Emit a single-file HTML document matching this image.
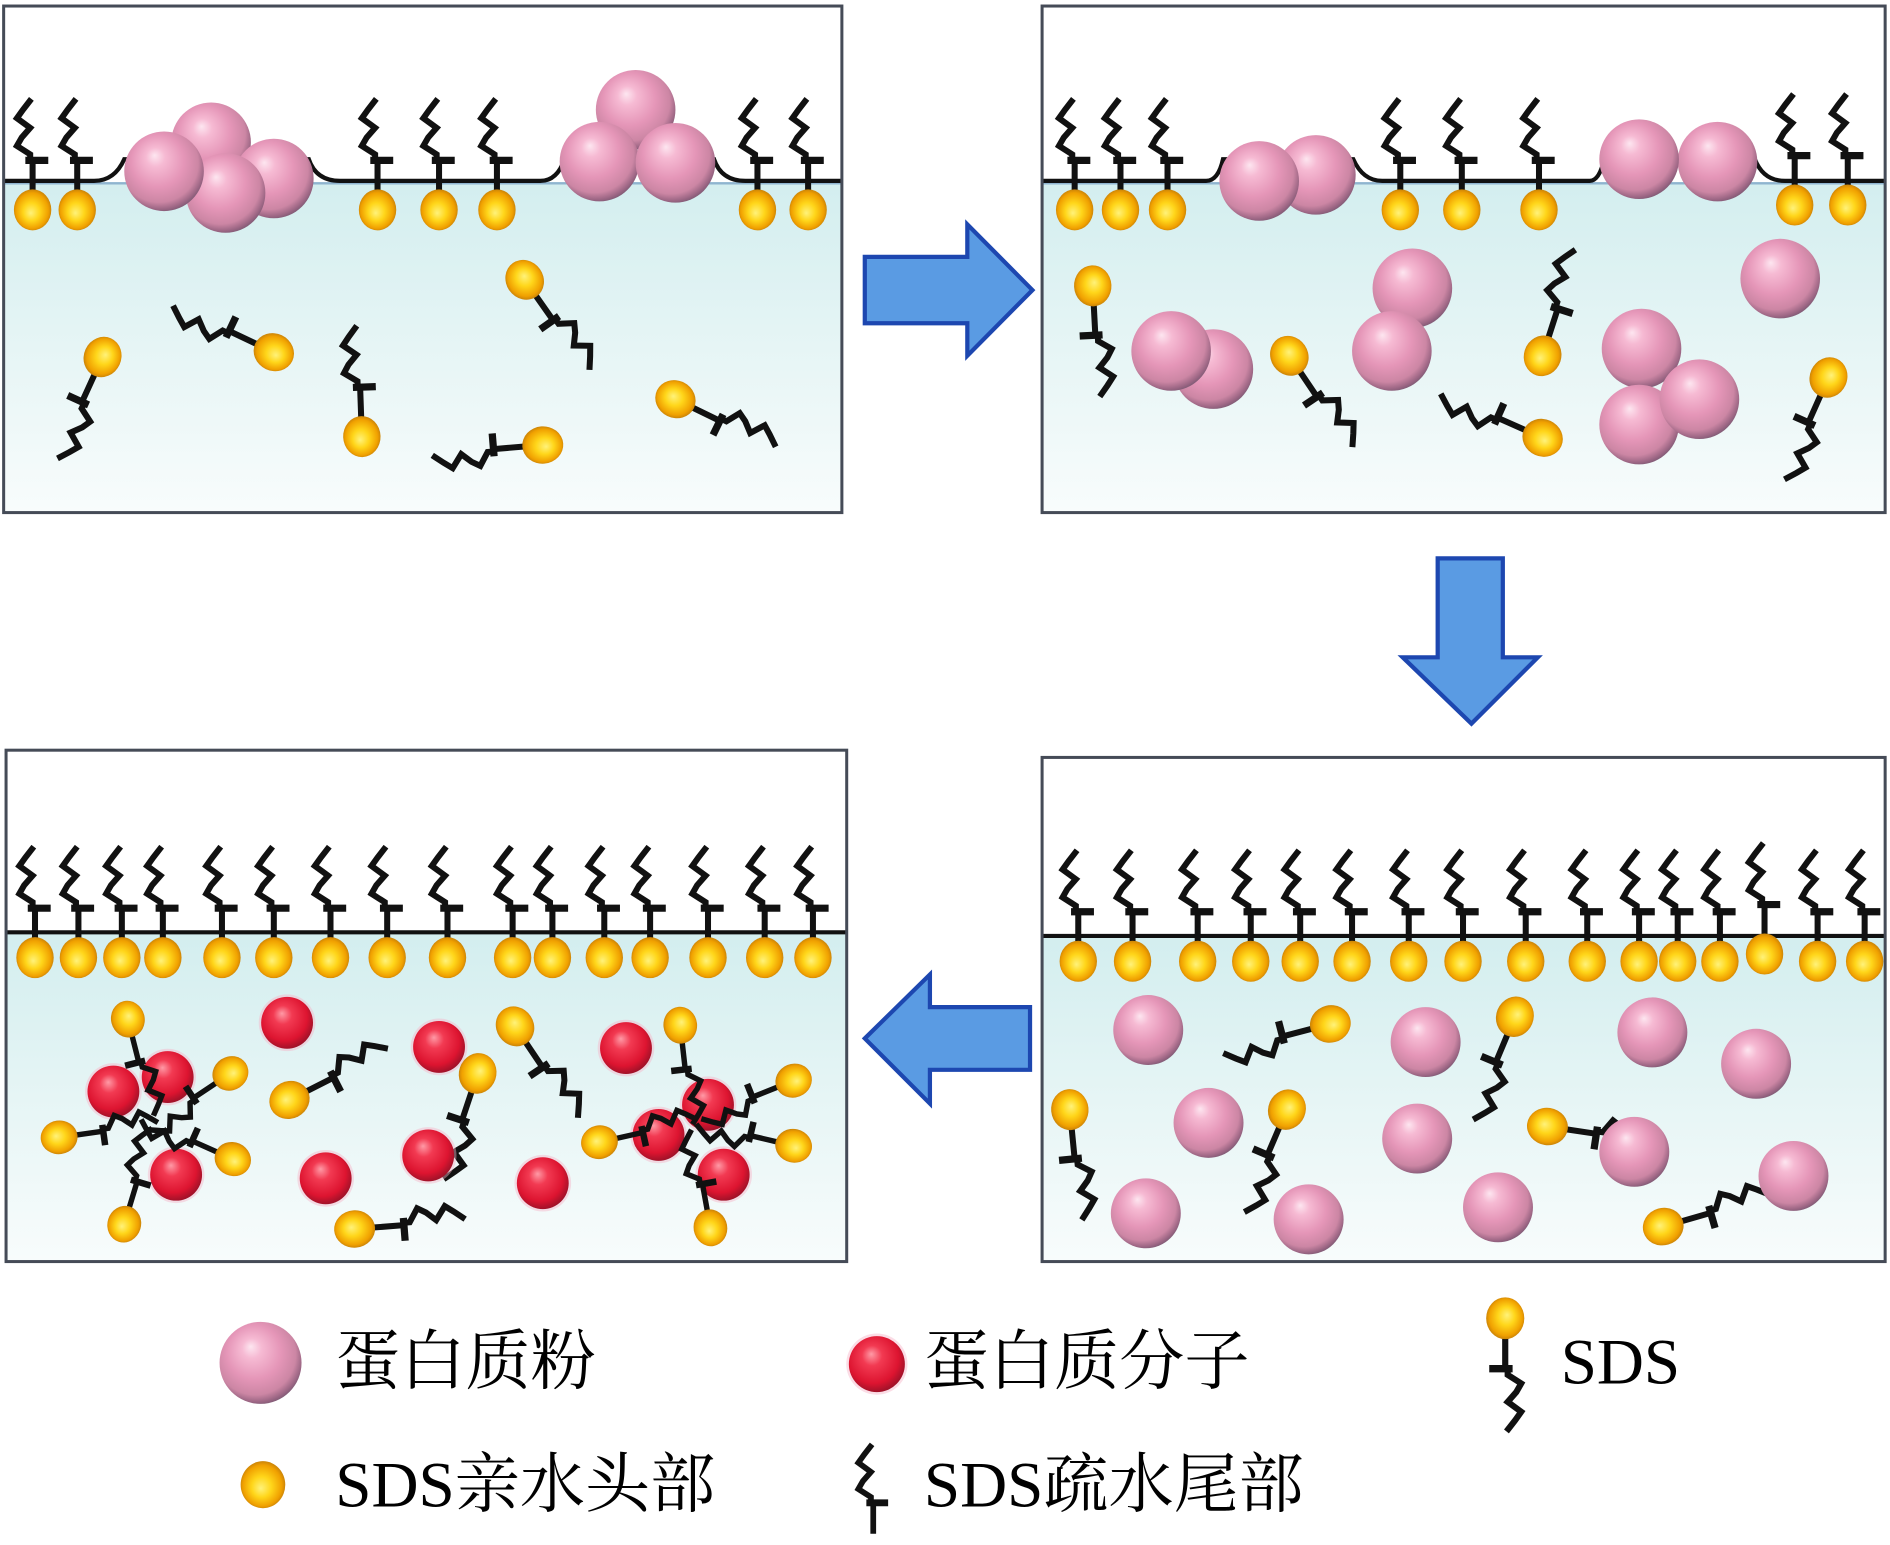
<!DOCTYPE html>
<html><head><meta charset="utf-8"><style>
html,body{margin:0;padding:0;background:#fff;}
svg{display:block;}
.lg{font-family:"Liberation Serif","Noto Serif CJK SC",serif;font-size:54px;fill:#000;}
</style></head><body>
<svg width="1890" height="1545" viewBox="0 0 1567 1281" xmlns="http://www.w3.org/2000/svg">
<defs>
<radialGradient id="pink" cx="0.45" cy="0.42" r="0.6" fx="0.38" fy="0.3">
<stop offset="0" stop-color="#fde6f0"/><stop offset="0.2" stop-color="#f6bad3"/><stop offset="0.55" stop-color="#e596b8"/><stop offset="0.82" stop-color="#cc86a4"/><stop offset="0.94" stop-color="#9c6684"/><stop offset="1" stop-color="#7d5a74"/>
</radialGradient>
<radialGradient id="red" cx="0.45" cy="0.42" r="0.6" fx="0.4" fy="0.32">
<stop offset="0" stop-color="#ff9aa6"/><stop offset="0.3" stop-color="#f23a52"/><stop offset="0.75" stop-color="#dd1430"/><stop offset="1" stop-color="#9a1228"/>
</radialGradient>
<radialGradient id="yel" cx="0.5" cy="0.5" r="0.58" fx="0.45" fy="0.58">
<stop offset="0" stop-color="#fff27a"/><stop offset="0.38" stop-color="#ffd61a"/><stop offset="0.75" stop-color="#f0a000"/><stop offset="1" stop-color="#a86a10"/>
</radialGradient>
<linearGradient id="water" x1="0" y1="0" x2="0" y2="1">
<stop offset="0" stop-color="#d3eeef"/><stop offset="0.5" stop-color="#e6f5f5"/><stop offset="1" stop-color="#f8fcfc"/>
</linearGradient>
<g id="tail">
<path d="M-1,-92 L-8,-83 L-13,-76 L-2,-68 L-9,-60 L-13,-53 L-2,-46 L-2,-41 M0,-41 L0,-14" fill="none" stroke="#111" stroke-width="5" stroke-linejoin="miter"/>
<path d="M-6,-41 L13,-41" stroke="#111" stroke-width="6"/>
</g>
<g id="sds"><use href="#tail"/><ellipse rx="15.5" ry="17" fill="url(#yel)"/></g>
<circle id="pk" r="33" fill="url(#pink)"/>
<circle id="pk2" r="29" fill="url(#pink)"/>
<g id="rd"><circle r="23.5" fill="#f7b3c8" opacity="0.45"/><circle r="21.5" fill="url(#red)"/></g>
</defs>

<!-- ============ PANEL 1 ============ -->
<rect x="3" y="5" width="695" height="420" fill="#fff"/>
<rect x="3" y="151" width="695" height="274" fill="url(#water)"/>
<line x1="3" y1="152" x2="698" y2="152" stroke="#8fb4cf" stroke-width="2"/>
<path d="M3,150 L78,150 Q95,150 103,132 L256,132 Q262,150 282,150 L448,150 Q462,150 468,132 L592,132 Q598,150 618,150 L698,150" fill="none" stroke="#111" stroke-width="3.5"/>
<use href="#pk" x="175" y="118"/><use href="#pk" x="227" y="148"/><use href="#pk" x="187" y="160"/><use href="#pk" x="136" y="142"/>
<use href="#pk" x="527" y="91"/><use href="#pk" x="497" y="134"/><use href="#pk" x="560" y="135"/>
<use href="#sds" x="27" y="174"/><use href="#sds" x="64" y="174"/><use href="#sds" x="313" y="174"/><use href="#sds" x="364" y="174"/><use href="#sds" x="412" y="174"/><use href="#sds" x="628" y="174"/><use href="#sds" x="670" y="174"/>
<use href="#sds" transform="translate(85,296) rotate(-155.4)"/>
<use href="#sds" transform="translate(227,292) rotate(-64.6)"/>
<use href="#sds" transform="translate(300,362) rotate(-2)"/>
<use href="#sds" transform="translate(435,232) rotate(144.9)"/>
<use href="#sds" transform="translate(450,369) rotate(-94.7)"/>
<use href="#sds" transform="translate(560,331) rotate(116)"/>
<rect x="3" y="5" width="695" height="420" fill="none" stroke="#454b57" stroke-width="2.5"/>

<!-- ============ PANEL 2 ============ -->
<rect x="864" y="5" width="699" height="420" fill="#fff"/>
<rect x="864" y="151" width="699" height="274" fill="url(#water)"/>
<line x1="864" y1="152" x2="1563" y2="152" stroke="#8fb4cf" stroke-width="2"/>
<path d="M864,150 L1000,150 Q1010,150 1014,132 L1122,132 Q1130,150 1146,150 L1318,150 Q1326,150 1330,132 L1455,132 Q1462,150 1480,150 L1563,150" fill="none" stroke="#111" stroke-width="3.5"/>
<use href="#pk" x="1091" y="145"/><use href="#pk" x="1044" y="150"/>
<use href="#pk" x="1424" y="134"/><use href="#pk" x="1359" y="132"/>
<use href="#sds" transform="translate(1279,363) rotate(-66)"/>
<use href="#pk" x="1006" y="306"/><use href="#pk" x="971" y="291"/>
<use href="#pk" x="1171" y="239"/><use href="#pk" x="1154" y="291"/>
<use href="#pk" x="1476" y="231"/>
<use href="#pk" x="1361" y="289"/><use href="#pk" x="1359" y="352"/><use href="#pk" x="1409" y="331"/>
<use href="#sds" x="891" y="174"/><use href="#sds" x="929" y="174"/><use href="#sds" x="968" y="174"/><use href="#sds" x="1161" y="174"/><use href="#sds" x="1212" y="174"/><use href="#sds" x="1276" y="174"/><use href="#sds" x="1488" y="170"/><use href="#sds" x="1532" y="170"/>
<use href="#sds" transform="translate(906,237) rotate(177)"/>
<use href="#sds" transform="translate(1069,295) rotate(146)"/>
<use href="#sds" transform="translate(1279,295) rotate(17.8)"/>
<use href="#sds" transform="translate(1516,313) rotate(-156)"/>
<rect x="864" y="5" width="699" height="420" fill="none" stroke="#454b57" stroke-width="2.5"/>

<!-- ============ PANEL 3 ============ -->
<rect x="864" y="628" width="699" height="418" fill="#fff"/>
<rect x="864" y="777" width="699" height="269" fill="url(#water)"/>
<line x1="864" y1="776" x2="1563" y2="776" stroke="#111" stroke-width="3.5"/>
<use href="#sds" transform="translate(1103,849) rotate(-104.6)"/>
<use href="#sds" transform="translate(1256,843) rotate(-157.3)"/>
<use href="#sds" transform="translate(887,920) rotate(174.4)"/>
<use href="#sds" transform="translate(1067,920) rotate(-156.8)"/>
<use href="#sds" transform="translate(1283,934) rotate(98.5)"/>
<use href="#sds" transform="translate(1379,1017) rotate(73.9)"/>
<use href="#pk2" x="952" y="854"/><use href="#pk2" x="1182" y="864"/><use href="#pk2" x="1370" y="856"/><use href="#pk2" x="1456" y="882"/>
<use href="#pk2" x="1002" y="931"/><use href="#pk2" x="1175" y="944"/><use href="#pk2" x="1355" y="955"/><use href="#pk2" x="1487" y="975"/>
<use href="#pk2" x="950" y="1006"/><use href="#pk2" x="1085" y="1011"/><use href="#pk2" x="1242" y="1001"/>
<use href="#sds" x="894" y="797"/><use href="#sds" x="939" y="797"/><use href="#sds" x="993" y="797"/><use href="#sds" x="1037" y="797"/><use href="#sds" x="1078" y="797"/><use href="#sds" x="1121" y="797"/><use href="#sds" x="1168" y="797"/><use href="#sds" x="1213" y="797"/><use href="#sds" x="1265" y="797"/><use href="#sds" x="1316" y="797"/><use href="#sds" x="1359" y="797"/><use href="#sds" x="1391" y="797"/><use href="#sds" x="1426" y="797"/><use href="#sds" x="1463" y="791"/><use href="#sds" x="1507" y="797"/><use href="#sds" x="1546" y="797"/>
<rect x="864" y="628" width="699" height="418" fill="none" stroke="#454b57" stroke-width="2.5"/>

<!-- ============ PANEL 4 ============ -->
<rect x="5" y="622" width="697" height="424" fill="#fff"/>
<rect x="5" y="774" width="697" height="272" fill="url(#water)"/>
<line x1="5" y1="773" x2="702" y2="773" stroke="#111" stroke-width="3.5"/>
<use href="#sds" transform="translate(240,912) rotate(63.1)"/>
<use href="#sds" transform="translate(396,890) rotate(-161.6)"/>
<use href="#sds" transform="translate(427,851) rotate(146.1)"/>
<use href="#sds" transform="translate(294,1019) rotate(85.5)"/>
<use href="#rd" x="94" y="905"/><use href="#rd" x="139" y="893"/><use href="#rd" x="146" y="974"/>
<use href="#rd" x="238" y="848"/><use href="#rd" x="364" y="868"/><use href="#rd" x="355" y="958"/><use href="#rd" x="519" y="869"/>
<use href="#rd" x="270" y="977"/><use href="#rd" x="450" y="981"/>
<use href="#rd" x="587" y="916"/><use href="#rd" x="546" y="941"/><use href="#rd" x="600" y="974"/>
<use href="#sds" transform="translate(106,845) rotate(165.8) scale(0.9)"/>
<use href="#sds" transform="translate(191,890) rotate(-123.7) scale(0.9)"/>
<use href="#sds" transform="translate(49,943) rotate(82.1) scale(0.9)"/>
<use href="#sds" transform="translate(193,961) rotate(-66) scale(0.9)"/>
<use href="#sds" transform="translate(103,1015) rotate(16.8) scale(0.9)"/>
<use href="#sds" transform="translate(564,850) rotate(173.6) scale(0.9)"/>
<use href="#sds" transform="translate(658,896) rotate(-111.8) scale(0.9)"/>
<use href="#sds" transform="translate(497,947) rotate(77.4) scale(0.9)"/>
<use href="#sds" transform="translate(658,950) rotate(-76.8) scale(0.9)"/>
<use href="#sds" transform="translate(589,1018) rotate(-10.3) scale(0.9)"/>
<use href="#sds" x="29" y="794"/><use href="#sds" x="65" y="794"/><use href="#sds" x="101" y="794"/><use href="#sds" x="135" y="794"/><use href="#sds" x="184" y="794"/><use href="#sds" x="227" y="794"/><use href="#sds" x="274" y="794"/><use href="#sds" x="321" y="794"/><use href="#sds" x="371" y="794"/><use href="#sds" x="425" y="794"/><use href="#sds" x="458" y="794"/><use href="#sds" x="501" y="794"/><use href="#sds" x="539" y="794"/><use href="#sds" x="587" y="794"/><use href="#sds" x="634" y="794"/><use href="#sds" x="674" y="794"/>
<rect x="5" y="622" width="697" height="424" fill="none" stroke="#454b57" stroke-width="2.5"/>

<!-- ============ ARROWS ============ -->
<g fill="#5a9be3" stroke="#1d47b0" stroke-width="3.5" stroke-linejoin="miter">
<path d="M717,213 L802,213 L802,186 L856,240.5 L802,295 L802,268 L717,268 Z"/>
<path d="M1192,463 L1246,463 L1246,545 L1275,545 L1220,600 L1163,545 L1192,545 Z"/>
<path d="M854,835 L771,835 L771,808 L717,861 L771,915 L771,887 L854,887 Z"/>
</g>

<!-- ============ LEGEND ============ -->
<use href="#pk" transform="translate(216,1130) scale(1.03)"/>
<use href="#rd" transform="translate(727,1131) scale(1.08)"/>
<use href="#sds" transform="translate(1248,1093) rotate(180) scale(1.02)"/>
<ellipse cx="218" cy="1231" rx="18.5" ry="19.5" fill="url(#yel)"/>
<use href="#tail" transform="translate(724,1285) scale(0.95)"/>
<text class="lg" x="278" y="1147">蛋白质粉</text>
<text class="lg" x="766" y="1147">蛋白质分子</text>
<text class="lg" x="1294" y="1147">SDS</text>
<text class="lg" x="278" y="1249">SDS亲水头部</text>
<text class="lg" x="766" y="1249">SDS疏水尾部</text>
</svg>
</body></html>
